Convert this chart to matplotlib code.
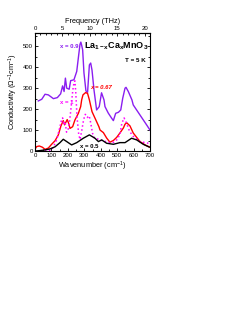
import numpy as np
import matplotlib
matplotlib.use("Agg")
import matplotlib.pyplot as plt
from matplotlib.ticker import MultipleLocator

plt.rcParams['font.family'] = ['Liberation Sans', 'DejaVu Sans']
plt.rcParams['mathtext.fontset'] = 'custom'
plt.rcParams['mathtext.rm'] = 'Liberation Sans'
plt.rcParams['mathtext.it'] = 'Liberation Sans:italic'
plt.rcParams['mathtext.bf'] = 'Liberation Sans:bold'

# -----------------------------
# DATA
# -----------------------------
wn_09 = [20, 41, 61, 81, 95, 112, 136, 156, 168, 177, 185, 193, 208, 217, 237, 254,
         266, 274, 279, 284, 290, 298, 310, 320, 331, 339, 347, 359, 375, 391, 405,
         420, 426, 446, 467, 477, 491, 508, 522, 534, 548, 554, 568, 590, 598, 639, 680, 700]
s_09 = [239, 247, 271, 268, 260, 250, 255, 273, 311, 284, 348, 300, 295, 336, 340, 380,
        459, 510, 520, 505, 483, 373, 287, 280, 411, 420, 386, 292, 196, 212, 278,
        244, 212, 181, 156, 145, 180, 185, 196, 252, 300, 304, 284, 244, 220, 172, 124, 100]

wn_067 = [5, 10, 26, 45, 61, 81, 101, 122, 142, 158, 172, 180, 196, 205, 213, 229, 243,
          264, 278, 284, 292, 308, 320, 331, 347, 361, 375, 389, 396, 416, 436, 456, 477,
          497, 517, 538, 548, 558, 578, 598, 639, 670, 700]
s_067 = [15, 21, 24, 18, 8, 14, 32, 49, 77, 120, 145, 125, 150, 132, 108, 116, 148,
         180, 212, 244, 268, 279, 275, 244, 188, 164, 140, 116, 100, 88, 62, 42, 50,
         65, 86, 110, 128, 135, 120, 86, 45, 29, 18]

wn_1 = [60, 100, 112, 132, 150, 162, 168, 175, 183, 192, 201, 210, 220, 230, 238, 243,
        248, 256, 266, 274, 284, 296, 306, 318, 330, 340, 350, 362, 380, 400, 426, 457,
        480, 500, 517, 528, 542, 556, 575, 598, 639, 690]
s_1 = [0, 5, 20, 53, 110, 150, 158, 125, 140, 90, 100, 140, 210, 290, 330, 335,
       280, 160, 80, 55, 95, 150, 175, 160, 168, 130, 85, 62, 58, 52, 46, 40,
       42, 55, 80, 130, 158, 135, 95, 70, 45, 37]

wn_05 = [5, 30, 60, 91, 122, 152, 172, 193, 223, 254, 294, 331, 365, 386, 406, 436,
         477, 517, 548, 588, 619, 659, 695]
s_05 = [0, 2, 5, 10, 20, 40, 56, 45, 29, 40, 61, 77, 61, 45, 53, 37,
        32, 40, 40, 61, 53, 32, 19]

CM_TO_THZ = 0.0299792458

# -----------------------------
# FIGURE
# -----------------------------
fig = plt.figure(figsize=(2.49, 3.23), dpi=100)
ax = fig.add_axes([0.1406, 0.5325, 0.4618, 0.3663])

ax.plot(wn_09, s_09, color='#8a1ef0', lw=1.0)
ax.plot(wn_067, s_067, color='#ff0000', lw=1.0)
ax.plot(wn_1, s_1, color='#ff00ff', lw=1.1, ls=':')
ax.plot(wn_05, s_05, color='black', lw=1.0)

ax.set_xlim(0, 700)
ax.set_ylim(0, 565)
ax.xaxis.set_major_locator(MultipleLocator(100))
ax.xaxis.set_minor_locator(MultipleLocator(50))
ax.yaxis.set_major_locator(MultipleLocator(100))
ax.yaxis.set_minor_locator(MultipleLocator(50))
ax.tick_params(which='both', direction='in', right=True, labelsize=4.3, width=0.6, pad=1.5)
ax.tick_params(which='major', length=2.2)
ax.tick_params(which='minor', length=1.3)
for sp in ax.spines.values():
    sp.set_linewidth(0.8)

ax.set_xlabel('Wavenumber (cm$^{-1}$)', fontsize=5.3, labelpad=1)
ax.set_ylabel('Conductivity ($\\Omega^{-1}$cm$^{-1}$)', fontsize=5.3, labelpad=2)

top = ax.secondary_xaxis('top', functions=(lambda w: w * CM_TO_THZ, lambda f: f / CM_TO_THZ))
top.xaxis.set_major_locator(MultipleLocator(5))
top.xaxis.set_minor_locator(MultipleLocator(1))
top.tick_params(which='both', direction='in', labelsize=4.3, width=0.6, pad=1.5)
top.tick_params(which='major', length=2.2)
top.tick_params(which='minor', length=1.3)
top.set_xlabel('Frequency (THz)', fontsize=5.3, labelpad=2)

# -----------------------------
# ANNOTATIONS
# -----------------------------
ax.text(152, 500, 'x = 0.9', color='#8a1ef0', fontsize=4.3, fontweight='bold', va='center')
ax.text(335, 302, 'x = 0.67', color='#ff0000', fontsize=4.3, fontweight='bold',
        style='italic', va='center')
ax.text(152, 230, 'x = 1', color='#ff00ff', fontsize=4.3, fontweight='bold', va='center')
ax.text(274, 22, 'x = 0.5', color='black', fontsize=4.3, fontweight='bold', va='center')
ax.text(690, 500, 'La$_{\\mathbf{1-x}}$Ca$_{\\mathbf{x}}$MnO$_{\\mathbf{3}}$', fontsize=6.5,
        fontweight='bold', ha='right', va='center')
ax.text(675, 432, 'T = 5 K', fontsize=4.5, fontweight='bold', ha='right', va='center')

fig.savefig('out.png', dpi=100)
